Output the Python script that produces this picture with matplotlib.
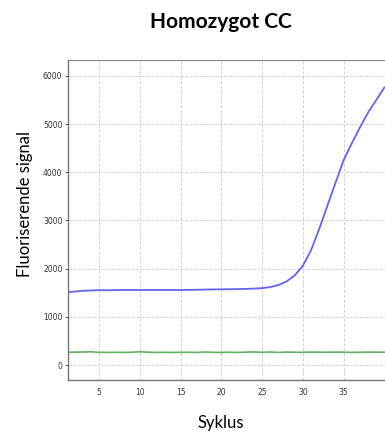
import matplotlib
matplotlib.use("Agg")
import matplotlib.pyplot as plt

cycles = list(range(1, 41))
blue_signal = [1510, 1525, 1540, 1548, 1555, 1552, 1556, 1558, 1558, 1558,
               1558, 1558, 1558, 1558, 1558, 1560, 1562, 1566, 1570, 1572,
               1574, 1576, 1580, 1586, 1596, 1618, 1660, 1735, 1860, 2060,
               2380, 2820, 3300, 3780, 4250, 4600, 4930, 5240, 5500, 5760]
green_signal = [265, 268, 270, 275, 265, 262, 265, 262, 266, 276,
                268, 262, 264, 262, 266, 265, 262, 272, 264, 262,
                266, 262, 268, 272, 265, 272, 262, 270, 266, 265,
                270, 268, 265, 270, 268, 262, 266, 270, 268, 268]
x_ticks = [5, 10, 15, 20, 25, 30, 35]
y_ticks = [0, 1000, 2000, 3000, 4000, 5000, 6000]

fig = plt.figure(figsize=(3.85, 4.32), dpi=100)
fig.patch.set_facecolor("white")
ax = fig.add_axes([68/385, 1-380/432, (386-68)/385, 320/432])

ax.plot(cycles, blue_signal, color="#6464ee", lw=1.3)
ax.plot(cycles, green_signal, color="#5fb35f", lw=1.2)

ax.set_xlim(1.2, 40.2)
ax.set_ylim(-310, 6330)
ax.set_xticks(x_ticks)
ax.set_yticks(y_ticks)
ax.grid(True, color="#d0d0d0", linestyle=(0, (3, 2)), lw=0.7)
ax.tick_params(axis="both", labelsize=5.5, colors="#333333", length=2, width=0.6)
ax.tick_params(axis="x", length=0, pad=6)
ax.tick_params(axis="y", pad=2)
for s in ["left", "bottom"]:
    ax.spines[s].set_color("#777777")
    ax.spines[s].set_linewidth(1.0)
ax.spines["top"].set_color("#888888")
ax.spines["top"].set_linewidth(0.8)
ax.spines["right"].set_visible(False)

fig.text(221/385, 1-22/432, "Homozygot CC", ha="center", va="center",
         fontsize=15, fontweight="bold", family="Lato")
fig.text(25/385, 1-204/432, "Fluoriserende signal", ha="center", va="center",
         rotation=90, fontsize=12, family="Lato")
fig.text(221/385, 1-423/432, "Syklus", ha="center", va="center",
         fontsize=12, family="Lato")

fig.savefig("out.png", dpi=100, facecolor="white")
